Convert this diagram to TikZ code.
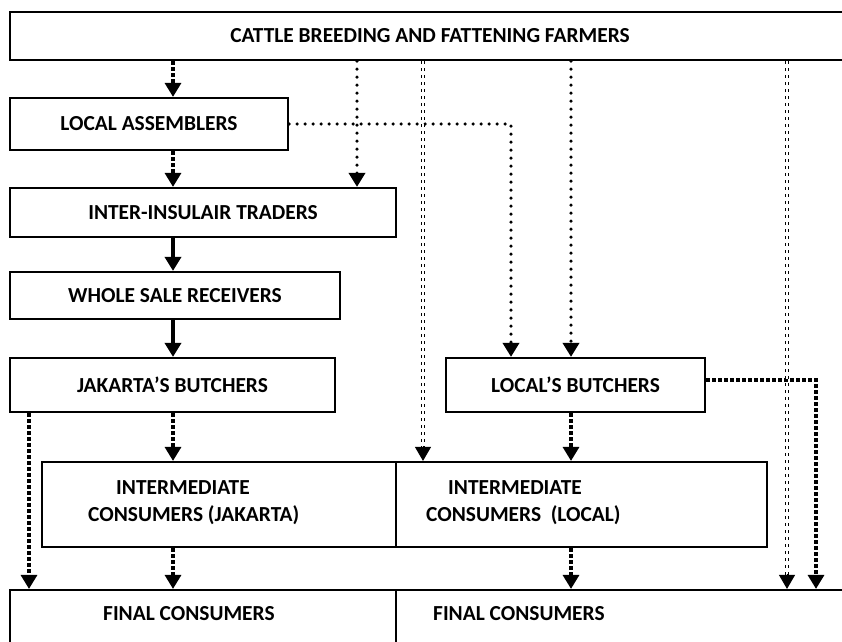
\documentclass[tikz,border=0pt]{standalone}
\usepackage{fontspec}
\setmainfont{Carlito}
\usetikzlibrary{arrows.meta}
\tikzset{
  x=1pt, y=-1pt,
  txt/.style={font=\fontsize{21.4}{25}\selectfont\bfseries},
  box/.style={draw, rectangle, line width=2.2pt, inner sep=0pt, txt},
  lbl/.style={inner sep=0pt, txt, anchor=base west},
  tip/.style={-{Triangle[length=14pt,width=16pt]}},
  sqdot/.style={tip, line width=3.2pt, dash pattern=on 3.5pt off 2.5pt},
  rddot/.style={tip, line width=3.6pt, line cap=round, dash pattern=on 0pt off 8pt},
  solidarr/.style={tip, line width=3.8pt},
  dblline/.style={double, double distance=1.4pt, line width=1.4pt, dash pattern=on 3pt off 4pt},
  tipline/.style={tip, line width=1pt},
}
\begin{document}
\begin{tikzpicture}
\useasboundingbox (0,0) rectangle (842,641);
\clip (0,0) rectangle (842,641);
\fill[white] (0,0) rectangle (842,641);

% boxes
\node[box, minimum width=840pt, minimum height=48pt] (top) at (430,36) {CATTLE BREEDING AND FATTENING FARMERS};
\node[box, minimum width=278pt, minimum height=52pt] (la) at (149,124) {LOCAL ASSEMBLERS};
\node[box, minimum width=386pt, minimum height=49pt] (it) at (203,212.5) {INTER-INSULAIR TRADERS};
\node[box, minimum width=330pt, minimum height=47pt] (ws) at (175,295.5) {WHOLE SALE RECEIVERS};
\node[box, minimum width=325pt, minimum height=54pt] (jb) at (172.5,385) {JAKARTA’S BUTCHERS};
\node[box, minimum width=259pt, minimum height=54pt] (lb) at (575.5,385) {LOCAL’S BUTCHERS};
\node[box, minimum width=354pt, minimum height=85pt] (icj) at (219,504.5) {};
\node[box, minimum width=371pt, minimum height=85pt] (icl) at (581.5,504.5) {};
\node[box, minimum width=386pt, minimum height=70pt] (fcj) at (203,625) {};
\node[box, minimum width=454pt, minimum height=70pt] (fcl) at (623,625) {};

% labels in split boxes
\node[lbl] (icj1) at (116,494) {INTERMEDIATE};
\node[lbl] (icj2) at (88,521) {CONSUMERS (JAKARTA)};
\node[lbl] (icl1) at (448,494) {INTERMEDIATE};
\node[lbl] (icl2) at (426,521) {CONSUMERS\ \ (LOCAL)};
\node[lbl] (fcj1) at (103,620) {FINAL CONSUMERS};
\node[lbl] (fcl1) at (433,620) {FINAL CONSUMERS};

% x positions of connectors
\coordinate (xa) at (173,0);
\coordinate (xb) at (357,0);
\coordinate (xc) at (511,0);
\coordinate (xd) at (571,0);
\coordinate (xe) at (423,0);
\coordinate (xf) at (29,0);
\coordinate (xg) at (787,0);
\coordinate (xh) at (816,0);

% connectors
\draw[sqdot] (top.south -| xa) -- (la.north -| xa);
\draw[rddot] (top.south -| xb) -- (it.north -| xb);
\draw[sqdot] (la.south -| xa) -- (it.north -| xa);
\draw[rddot] (la.east) -| (lb.north -| xc);
\draw[rddot] (top.south -| xd) -- (lb.north -| xd);
\draw[solidarr] (it.south -| xa) -- (ws.north -| xa);
\draw[solidarr] (ws.south -| xa) -- (jb.north -| xa);
\draw[sqdot] (jb.south -| xa) -- (icj.north -| xa);
\draw[sqdot] (jb.south -| xf) -- (fcj.north -| xf);
\draw[sqdot] (lb.south -| xd) -- (icl.north -| xd);
\draw[sqdot] (icj.south -| xa) -- (fcj.north -| xa);
\draw[sqdot] (icl.south -| xd) -- (fcl.north -| xd);
\draw[sqdot] ([yshift=5pt]lb.east) -| (fcl.north -| xh);

\draw[dblline] (top.south -| xe) -- ([yshift=14pt]icl.north -| xe);
\draw[tipline] ([yshift=15pt]icl.north -| xe) -- (icl.north -| xe);
\draw[dblline] (top.south -| xg) -- ([yshift=14pt]fcl.north -| xg);
\draw[tipline] ([yshift=15pt]fcl.north -| xg) -- (fcl.north -| xg);
\end{tikzpicture}
\end{document}
